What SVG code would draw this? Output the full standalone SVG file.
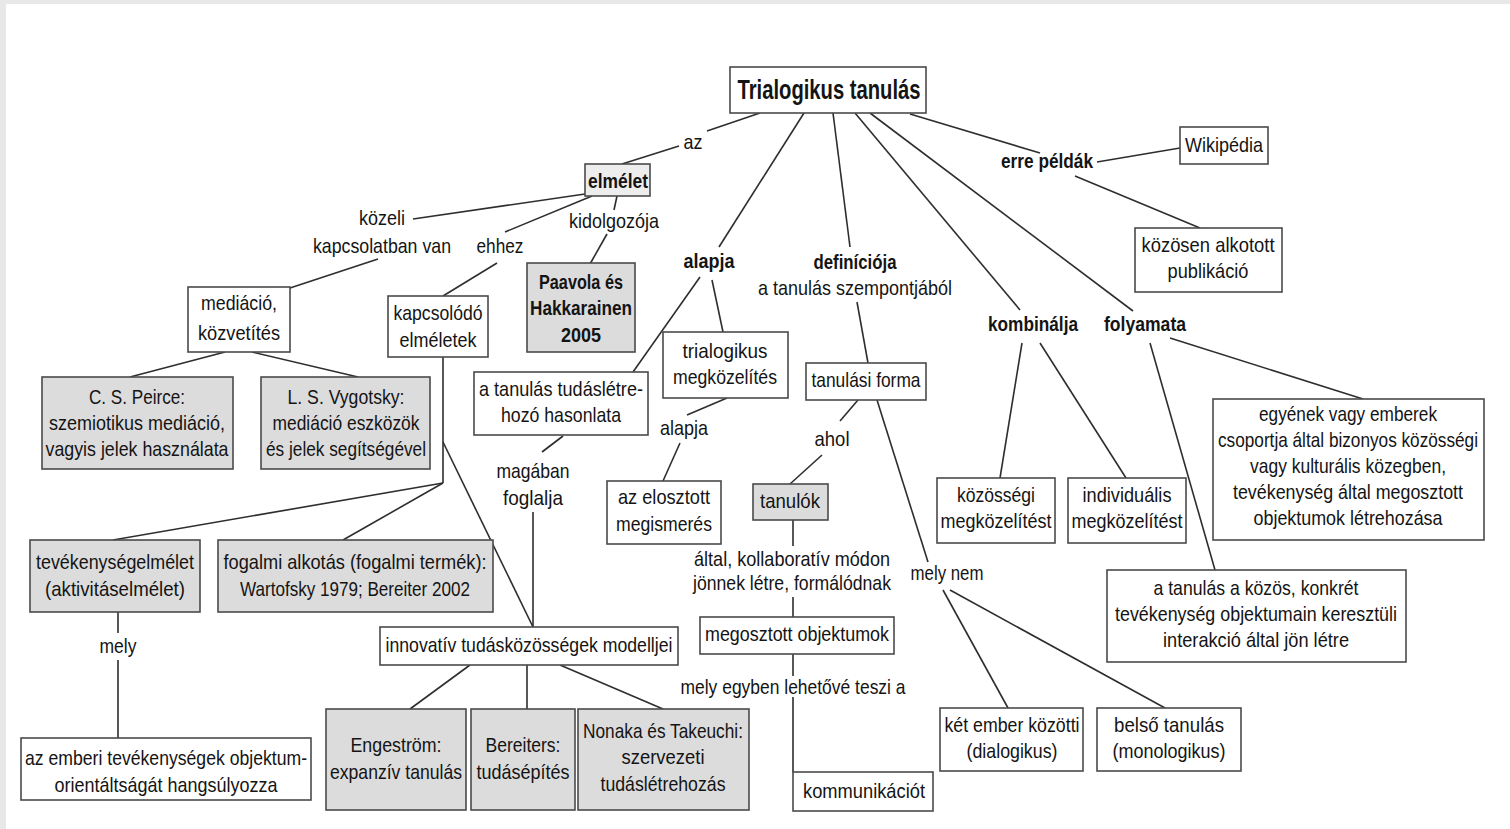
<svg xmlns="http://www.w3.org/2000/svg" width="1510" height="829" viewBox="0 0 1510 829">
<style>
.t{font-family:"Liberation Sans",Arial,sans-serif;font-size:21px;fill:#141414;text-anchor:middle}
.b{font-weight:bold}
.n{fill:#fff;stroke:#4a4a4a;stroke-width:1.6}
.g{fill:#dcdcdc;stroke:#4a4a4a;stroke-width:1.6}
.lg{fill:#ededed;stroke:#4a4a4a;stroke-width:1.6}
#connectors line{stroke:#2e2e2e;stroke-width:1.6}
</style>
<rect x="0" y="0" width="1510" height="829" fill="#fff"/>
<rect x="0" y="0" width="1510" height="4" fill="#e8e8e8"/>
<rect x="0" y="0" width="6" height="829" fill="#e8e8e8"/>
<g id="connectors">
<line x1="760" y1="113" x2="707" y2="131"/>
<line x1="679" y1="146" x2="622" y2="164"/>
<line x1="585" y1="194" x2="413" y2="219"/>
<line x1="378" y1="259" x2="290" y2="288"/>
<line x1="592" y1="196" x2="505" y2="232"/>
<line x1="497" y1="263" x2="443" y2="296"/>
<line x1="617" y1="196" x2="614" y2="210"/>
<line x1="607" y1="234" x2="590" y2="264"/>
<line x1="225" y1="352" x2="130" y2="377"/>
<line x1="252" y1="352" x2="358" y2="377"/>
<line x1="443" y1="357" x2="443" y2="483"/>
<line x1="443" y1="483" x2="113" y2="540"/>
<line x1="443" y1="483" x2="343" y2="540"/>
<line x1="443" y1="442" x2="533" y2="627"/>
<line x1="118" y1="612" x2="118" y2="633"/>
<line x1="118" y1="660" x2="118" y2="738"/>
<line x1="804" y1="113" x2="719" y2="247"/>
<line x1="700" y1="277" x2="633" y2="372"/>
<line x1="712" y1="280" x2="723" y2="332"/>
<line x1="727" y1="398" x2="687" y2="415"/>
<line x1="680" y1="443" x2="663" y2="481"/>
<line x1="563" y1="436" x2="542" y2="452"/>
<line x1="533" y1="512" x2="533" y2="627"/>
<line x1="470" y1="665" x2="410" y2="709"/>
<line x1="527" y1="665" x2="527" y2="709"/>
<line x1="560" y1="665" x2="663" y2="709"/>
<line x1="833" y1="113" x2="850" y2="247"/>
<line x1="857" y1="302" x2="868" y2="363"/>
<line x1="858" y1="400" x2="840" y2="421"/>
<line x1="822" y1="455" x2="790" y2="484"/>
<line x1="877" y1="400" x2="928" y2="562"/>
<line x1="793" y1="520" x2="793" y2="546"/>
<line x1="793" y1="597" x2="793" y2="617"/>
<line x1="793" y1="654" x2="793" y2="676"/>
<line x1="793" y1="697" x2="793" y2="772"/>
<line x1="943" y1="590" x2="1008" y2="708"/>
<line x1="950" y1="590" x2="1165" y2="708"/>
<line x1="855" y1="113" x2="1020" y2="310"/>
<line x1="870" y1="113" x2="1133" y2="311"/>
<line x1="910" y1="114" x2="1040" y2="153"/>
<line x1="1097" y1="162" x2="1180" y2="148"/>
<line x1="1075" y1="176" x2="1200" y2="228"/>
<line x1="1022" y1="343" x2="1000" y2="478"/>
<line x1="1040" y1="343" x2="1126" y2="478"/>
<line x1="1150" y1="343" x2="1215" y2="570"/>
<line x1="1170" y1="338" x2="1363" y2="399"/>
</g>
<g id="labels">
<text class="t" x="693" y="149" textLength="19" lengthAdjust="spacingAndGlyphs">az</text>
<text class="t" x="382" y="225" textLength="46" lengthAdjust="spacingAndGlyphs">közeli</text>
<text class="t" x="382" y="253" textLength="138" lengthAdjust="spacingAndGlyphs">kapcsolatban van</text>
<text class="t" x="500" y="253" textLength="47" lengthAdjust="spacingAndGlyphs">ehhez</text>
<text class="t" x="614" y="228" textLength="90" lengthAdjust="spacingAndGlyphs">kidolgozója</text>
<text class="t b" x="709" y="268" textLength="51" lengthAdjust="spacingAndGlyphs">alapja</text>
<text class="t" x="684" y="435" textLength="48" lengthAdjust="spacingAndGlyphs">alapja</text>
<text class="t" x="533" y="478" textLength="73" lengthAdjust="spacingAndGlyphs">magában</text>
<text class="t" x="533" y="505" textLength="60" lengthAdjust="spacingAndGlyphs">foglalja</text>
<text class="t b" x="855" y="269" textLength="83" lengthAdjust="spacingAndGlyphs">definíciója</text>
<text class="t" x="855" y="295" textLength="194" lengthAdjust="spacingAndGlyphs">a tanulás szempontjából</text>
<text class="t" x="832" y="446" textLength="35" lengthAdjust="spacingAndGlyphs">ahol</text>
<text class="t" x="792" y="566" textLength="196" lengthAdjust="spacingAndGlyphs">által, kollaboratív módon</text>
<text class="t" x="792" y="590" textLength="198" lengthAdjust="spacingAndGlyphs">jönnek létre, formálódnak</text>
<text class="t" x="793" y="694" textLength="225" lengthAdjust="spacingAndGlyphs">mely egyben lehetővé teszi a</text>
<text class="t" x="947" y="580" textLength="73" lengthAdjust="spacingAndGlyphs">mely nem</text>
<text class="t b" x="1047" y="168" textLength="92" lengthAdjust="spacingAndGlyphs">erre példák</text>
<text class="t b" x="1033" y="331" textLength="90" lengthAdjust="spacingAndGlyphs">kombinálja</text>
<text class="t b" x="1145" y="331" textLength="82" lengthAdjust="spacingAndGlyphs">folyamata</text>
<text class="t" x="118" y="653" textLength="37" lengthAdjust="spacingAndGlyphs">mely</text>
</g>
<g id="n-trialogikus">
<rect class="n" x="730" y="67" width="196" height="46"/>
<text class="t b" x="829" y="99" style="font-size:27px" textLength="183" lengthAdjust="spacingAndGlyphs">Trialogikus tanulás</text>
</g>
<g id="n-elmelet">
<rect class="lg" x="585" y="164" width="65" height="32"/>
<text class="t b" x="618" y="188" textLength="60" lengthAdjust="spacingAndGlyphs">elmélet</text>
</g>
<g id="n-paavola">
<rect class="g" x="527" y="263" width="108" height="89"/>
<text class="t b" x="581" y="289" textLength="84" lengthAdjust="spacingAndGlyphs">Paavola és</text>
<text class="t b" x="581" y="315" textLength="102" lengthAdjust="spacingAndGlyphs">Hakkarainen</text>
<text class="t b" x="581" y="342" textLength="40" lengthAdjust="spacingAndGlyphs">2005</text>
</g>
<g id="n-mediacio">
<rect class="n" x="188" y="287" width="102" height="65"/>
<text class="t" x="239" y="310" textLength="76" lengthAdjust="spacingAndGlyphs">mediáció,</text>
<text class="t" x="239" y="340" textLength="82" lengthAdjust="spacingAndGlyphs">közvetítés</text>
</g>
<g id="n-kapcsolodo">
<rect class="n" x="388" y="296" width="100" height="61"/>
<text class="t" x="438" y="320" textLength="89" lengthAdjust="spacingAndGlyphs">kapcsolódó</text>
<text class="t" x="438" y="347" textLength="77" lengthAdjust="spacingAndGlyphs">elméletek</text>
</g>
<g id="n-peirce">
<rect class="g" x="42" y="377" width="191" height="92"/>
<text class="t" x="137" y="404" textLength="96" lengthAdjust="spacingAndGlyphs">C. S. Peirce:</text>
<text class="t" x="137" y="430" textLength="176" lengthAdjust="spacingAndGlyphs">szemiotikus mediáció,</text>
<text class="t" x="137" y="456" textLength="183" lengthAdjust="spacingAndGlyphs">vagyis jelek használata</text>
</g>
<g id="n-vygotsky">
<rect class="g" x="261" y="377" width="169" height="92"/>
<text class="t" x="346" y="404" textLength="117" lengthAdjust="spacingAndGlyphs">L. S. Vygotsky:</text>
<text class="t" x="346" y="430" textLength="147" lengthAdjust="spacingAndGlyphs">mediáció eszközök</text>
<text class="t" x="346" y="456" textLength="160" lengthAdjust="spacingAndGlyphs">és jelek segítségével</text>
</g>
<g id="n-tudaslet">
<rect class="n" x="474" y="372" width="174" height="63"/>
<text class="t" x="561" y="396" textLength="164" lengthAdjust="spacingAndGlyphs">a tanulás tudáslétre-</text>
<text class="t" x="561" y="422" textLength="120" lengthAdjust="spacingAndGlyphs">hozó hasonlata</text>
</g>
<g id="n-trialog-megk">
<rect class="n" x="663" y="332" width="125" height="66"/>
<text class="t" x="725" y="358" textLength="85" lengthAdjust="spacingAndGlyphs">trialogikus</text>
<text class="t" x="725" y="384" textLength="104" lengthAdjust="spacingAndGlyphs">megközelítés</text>
</g>
<g id="n-elosztott">
<rect class="n" x="607" y="481" width="114" height="63"/>
<text class="t" x="664" y="504" textLength="92" lengthAdjust="spacingAndGlyphs">az elosztott</text>
<text class="t" x="664" y="531" textLength="96" lengthAdjust="spacingAndGlyphs">megismerés</text>
</g>
<g id="n-tanulasi-forma">
<rect class="n" x="806" y="363" width="120" height="37"/>
<text class="t" x="866" y="387" textLength="109" lengthAdjust="spacingAndGlyphs">tanulási forma</text>
</g>
<g id="n-tanulok">
<rect class="g" x="753" y="484" width="75" height="36"/>
<text class="t" x="790" y="508" textLength="60" lengthAdjust="spacingAndGlyphs">tanulók</text>
</g>
<g id="n-megosztott">
<rect class="n" x="700" y="617" width="194" height="37"/>
<text class="t" x="797" y="641" textLength="184" lengthAdjust="spacingAndGlyphs">megosztott objektumok</text>
</g>
<g id="n-kommunikaciot">
<rect class="n" x="793" y="772" width="140" height="39"/>
<text class="t" x="864" y="798" textLength="122" lengthAdjust="spacingAndGlyphs">kommunikációt</text>
</g>
<g id="n-ket-ember">
<rect class="n" x="940" y="708" width="143" height="63"/>
<text class="t" x="1012" y="732" textLength="135" lengthAdjust="spacingAndGlyphs">két ember közötti</text>
<text class="t" x="1012" y="758" textLength="91" lengthAdjust="spacingAndGlyphs">(dialogikus)</text>
</g>
<g id="n-belso">
<rect class="n" x="1097" y="708" width="144" height="63"/>
<text class="t" x="1169" y="732" textLength="110" lengthAdjust="spacingAndGlyphs">belső tanulás</text>
<text class="t" x="1169" y="758" textLength="113" lengthAdjust="spacingAndGlyphs">(monologikus)</text>
</g>
<g id="n-wikipedia">
<rect class="n" x="1180" y="127" width="88" height="37"/>
<text class="t" x="1224" y="152" textLength="78" lengthAdjust="spacingAndGlyphs">Wikipédia</text>
</g>
<g id="n-kozosen">
<rect class="n" x="1135" y="228" width="147" height="64"/>
<text class="t" x="1208" y="252" textLength="133" lengthAdjust="spacingAndGlyphs">közösen alkotott</text>
<text class="t" x="1208" y="278" textLength="81" lengthAdjust="spacingAndGlyphs">publikáció</text>
</g>
<g id="n-kozossegi">
<rect class="n" x="937" y="478" width="118" height="65"/>
<text class="t" x="996" y="502" textLength="78" lengthAdjust="spacingAndGlyphs">közösségi</text>
<text class="t" x="996" y="528" textLength="111" lengthAdjust="spacingAndGlyphs">megközelítést</text>
</g>
<g id="n-individualis">
<rect class="n" x="1068" y="478" width="118" height="65"/>
<text class="t" x="1127" y="502" textLength="89" lengthAdjust="spacingAndGlyphs">individuális</text>
<text class="t" x="1127" y="528" textLength="111" lengthAdjust="spacingAndGlyphs">megközelítést</text>
</g>
<g id="n-egyenek">
<rect class="n" x="1213" y="399" width="271" height="141"/>
<text class="t" x="1348" y="421" textLength="178" lengthAdjust="spacingAndGlyphs">egyének vagy emberek</text>
<text class="t" x="1348" y="447" textLength="260" lengthAdjust="spacingAndGlyphs">csoportja által bizonyos közösségi</text>
<text class="t" x="1348" y="473" textLength="196" lengthAdjust="spacingAndGlyphs">vagy kulturális közegben,</text>
<text class="t" x="1348" y="499" textLength="230" lengthAdjust="spacingAndGlyphs">tevékenység által megosztott</text>
<text class="t" x="1348" y="525" textLength="189" lengthAdjust="spacingAndGlyphs">objektumok létrehozása</text>
</g>
<g id="n-kozos-konkret">
<rect class="n" x="1107" y="570" width="299" height="92"/>
<text class="t" x="1256" y="595" textLength="205" lengthAdjust="spacingAndGlyphs">a tanulás a közös, konkrét</text>
<text class="t" x="1256" y="621" textLength="282" lengthAdjust="spacingAndGlyphs">tevékenység objektumain keresztüli</text>
<text class="t" x="1256" y="647" textLength="186" lengthAdjust="spacingAndGlyphs">interakció által jön létre</text>
</g>
<g id="n-tevekenyseg">
<rect class="g" x="30" y="540" width="170" height="72"/>
<text class="t" x="115" y="569" textLength="158" lengthAdjust="spacingAndGlyphs">tevékenységelmélet</text>
<text class="t" x="115" y="596" textLength="140" lengthAdjust="spacingAndGlyphs">(aktivitáselmélet)</text>
</g>
<g id="n-fogalmi">
<rect class="g" x="218" y="540" width="275" height="72"/>
<text class="t" x="355" y="569" textLength="263" lengthAdjust="spacingAndGlyphs">fogalmi alkotás (fogalmi termék):</text>
<text class="t" x="355" y="596" textLength="230" lengthAdjust="spacingAndGlyphs">Wartofsky 1979; Bereiter 2002</text>
</g>
<g id="n-emberi">
<rect class="n" x="21" y="738" width="290" height="62"/>
<text class="t" x="166" y="765" textLength="282" lengthAdjust="spacingAndGlyphs">az emberi tevékenységek objektum-</text>
<text class="t" x="166" y="792" textLength="223" lengthAdjust="spacingAndGlyphs">orientáltságát hangsúlyozza</text>
</g>
<g id="n-innovativ">
<rect class="n" x="380" y="627" width="298" height="38"/>
<text class="t" x="529" y="652" textLength="287" lengthAdjust="spacingAndGlyphs">innovatív tudásközösségek modelljei</text>
</g>
<g id="n-engestrom">
<rect class="g" x="326" y="709" width="140" height="101"/>
<text class="t" x="396" y="752" textLength="91" lengthAdjust="spacingAndGlyphs">Engeström:</text>
<text class="t" x="396" y="779" textLength="132" lengthAdjust="spacingAndGlyphs">expanzív tanulás</text>
</g>
<g id="n-bereiters">
<rect class="g" x="471" y="709" width="104" height="101"/>
<text class="t" x="523" y="752" textLength="75" lengthAdjust="spacingAndGlyphs">Bereiters:</text>
<text class="t" x="523" y="779" textLength="93" lengthAdjust="spacingAndGlyphs">tudásépítés</text>
</g>
<g id="n-nonaka">
<rect class="g" x="578" y="709" width="171" height="101"/>
<text class="t" x="663" y="738" textLength="160" lengthAdjust="spacingAndGlyphs">Nonaka és Takeuchi:</text>
<text class="t" x="663" y="764" textLength="83" lengthAdjust="spacingAndGlyphs">szervezeti</text>
<text class="t" x="663" y="791" textLength="125" lengthAdjust="spacingAndGlyphs">tudáslétrehozás</text>
</g>
</svg>
